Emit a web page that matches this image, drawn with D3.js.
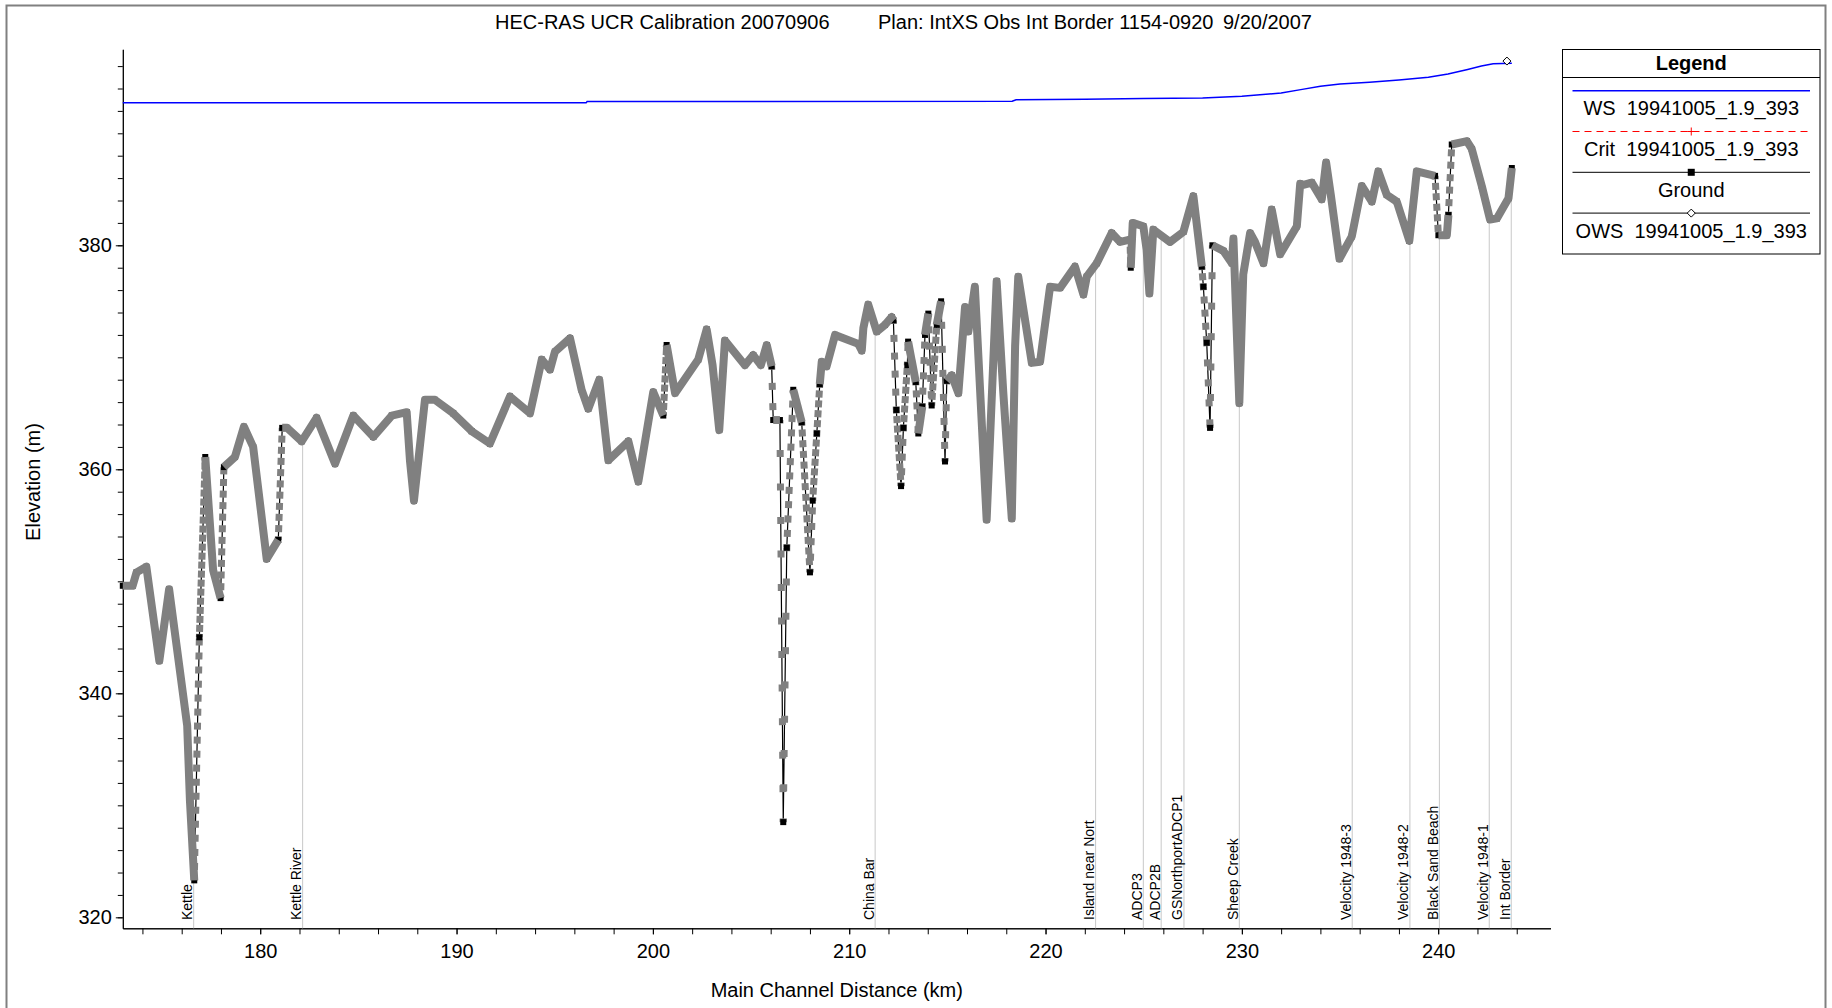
<!DOCTYPE html>
<html>
<head>
<meta charset="utf-8">
<script src="https://cdn.jsdelivr.net/npm/d3@7"></script>
<style>
    body { margin: 0; background: #fff; }
    svg { display: block; font-family: "Liberation Sans", Arial, sans-serif; }
    .pre { white-space: pre; }
</style>
</head>
<body>
<svg id="chart" width="1832" height="1008"></svg>
<script>
// ---- data ----
const titleParts = ["HEC-RAS UCR Calibration 20070906", "Plan: IntXS Obs Int Border 1154-0920", "9/20/2007"];
const xLabel = "Main Channel Distance (km)";
const yLabel = "Elevation (m)";

const xMajorTicks = [180, 190, 200, 210, 220, 230, 240];
const xMinorTicks = d3.range(174, 245, 2);
const yMajorTicks = [320, 340, 360, 380];
const yMinorTicks = d3.range(320, 397, 2);

// [river km, ground elevation m]
const groundProfile = [
    [173.0, 349.6], [173.5, 349.6], [173.7, 350.8], [174.2, 351.3], [174.86, 342.9],
    [175.36, 349.3], [176.28, 337.1], [176.42, 330.4], [176.64, 323.3], [176.9, 345.0],
    [177.2, 361.1], [177.6, 351.0], [177.98, 348.5], [178.15, 360.2], [178.71, 361.1],
    [179.17, 363.8], [179.64, 362.0], [180.33, 352.0], [180.92, 353.7], [181.12, 363.7],
    [181.37, 363.7], [182.11, 362.5], [182.87, 364.6], [183.81, 360.5], [184.74, 364.8],
    [185.76, 362.9], [186.7, 364.8], [187.46, 365.1], [187.63, 360.7], [187.83, 357.2],
    [188.39, 366.2], [188.9, 366.2], [189.83, 365.0], [190.77, 363.4], [191.7, 362.3],
    [192.72, 366.5], [193.74, 365.0], [194.34, 369.8], [194.76, 368.9], [195.01, 370.5],
    [195.78, 371.7], [196.37, 367.1], [196.71, 365.4], [197.27, 368.0], [197.73, 360.8],
    [198.75, 362.5], [199.26, 358.9], [200.02, 366.9], [200.53, 364.8], [200.7, 371.1],
    [201.13, 366.8], [202.31, 369.8], [202.74, 372.5], [203.04, 369.3], [203.38, 363.5],
    [203.67, 371.5], [204.69, 369.3], [205.11, 370.2], [205.5, 369.3], [205.8, 371.1],
    [206.05, 369.2], [206.13, 364.4], [206.47, 364.4], [206.64, 328.5], [206.82, 353.0],
    [207.15, 367.1], [207.58, 364.2], [208.0, 350.8], [208.14, 357.2], [208.35, 363.2],
    [208.5, 367.6], [208.6, 369.6], [208.85, 369.2], [209.28, 372.0], [210.46, 371.2],
    [210.64, 370.6], [210.72, 372.6], [210.97, 374.7], [211.4, 372.3], [211.82, 372.9],
    [212.16, 373.6], [212.25, 373.3], [212.4, 365.3], [212.64, 358.5], [212.76, 363.7],
    [212.96, 369.3], [213.0, 371.4], [213.39, 367.8], [213.52, 363.2], [213.72, 365.6],
    [213.86, 372.0], [214.03, 373.9], [214.2, 365.7], [214.46, 372.9], [214.68, 375.0],
    [214.88, 360.7], [214.97, 367.9], [215.22, 368.4], [215.56, 366.8], [215.9, 374.5],
    [216.07, 372.3], [216.4, 376.3], [217.0, 355.5], [217.51, 376.8], [217.85, 366.8],
    [218.28, 355.6], [218.45, 371.0], [218.61, 377.2], [219.3, 369.5], [219.72, 369.6],
    [220.23, 376.3], [220.74, 376.2], [221.5, 378.1], [221.93, 375.6], [222.1, 377.2],
    [222.61, 378.4], [223.37, 381.1], [223.8, 380.3], [224.3, 380.5], [224.34, 378.0],
    [224.44, 382.0], [224.98, 381.7], [225.15, 379.6], [225.29, 375.7], [225.49, 381.4],
    [226.34, 380.3], [227.02, 381.2], [227.53, 384.4], [227.96, 378.1], [228.04, 376.3],
    [228.21, 371.3], [228.38, 363.7], [228.5, 380.0], [229.06, 379.5], [229.49, 378.4],
    [229.57, 380.6], [229.87, 365.9], [230.07, 377.4], [230.42, 381.1], [230.67, 380.3],
    [231.1, 378.4], [231.52, 383.2], [231.95, 379.2], [232.8, 381.7], [232.97, 385.5],
    [233.13, 385.4], [233.56, 385.6], [234.07, 384.1], [234.29, 387.4], [234.53, 384.5],
    [234.97, 378.8], [235.6, 380.8], [236.11, 385.3], [236.62, 383.9], [236.95, 386.6],
    [237.38, 384.5], [237.89, 383.9], [238.53, 380.4], [238.91, 386.6], [239.84, 386.2],
    [240.01, 380.9], [240.44, 380.9], [240.52, 382.7], [240.69, 389.0], [241.46, 389.3],
    [241.71, 388.6], [242.22, 385.3], [242.64, 382.3], [242.99, 382.4], [243.58, 384.2],
    [243.75, 386.9]
];

// [river km, water surface m]
const wsProfile = [
    [173.0, 392.72], [196.6, 392.72], [196.65, 392.84], [218.3, 392.86], [218.5, 393.0],
    [222.0, 393.05], [225.0, 393.1], [228.0, 393.15], [230.0, 393.3], [232.0, 393.6],
    [233.0, 393.9], [234.0, 394.2], [235.0, 394.4], [236.5, 394.55], [238.0, 394.75],
    [239.5, 395.0], [240.5, 395.3], [241.5, 395.7], [242.2, 396.0], [242.8, 396.2],
    [243.75, 396.25]
];

const owsKm = [243.5];
const owsElev = [396.45];

const stationNames = ["Kettle", "Kettle River", "China Bar", "Island near Nort", "ADCP3", "ADCP2B",
    "GSNorthportADCP1", "Sheep Creek", "Velocity 1948-3", "Velocity 1948-2", "Black Sand Beach",
    "Velocity 1948-1", "Int Border"];
const stationKm = [176.61, 182.16, 211.32, 222.55, 224.98, 225.89, 227.05, 229.87, 235.62, 238.56,
    240.06, 242.6, 243.72];

const legendNames = ["WS  19941005_1.9_393", "Crit  19941005_1.9_393", "Ground", "OWS  19941005_1.9_393"];

// ---- drawing ----
const svg = d3.select("#chart");
const FONT = "\"Liberation Sans\", Arial, sans-serif";
const GREY = "#808080";

const x = d3.scaleLinear().domain([173, 245.72]).range([122.8, 1550.5]);
const y = d3.scaleLinear().domain([319.02, 397.5]).range([928.3, 49.3]);

// outer frame
svg.append("rect")
    .attr("x", 6.5).attr("y", 5.5)
    .attr("width", 1819).attr("height", 1020)
    .attr("fill", "none")
    .attr("stroke", GREY)
    .attr("stroke-width", 2);

// title
const titleX = [495, 878, 1223];
svg.selectAll(".title")
    .data(titleParts)
    .enter()
    .append("text")
    .attr("class", "title")
    .attr("x", (d, i) => titleX[i])
    .attr("y", 29)
    .attr("font-size", 20)
    .text(d => d);

// axes
function styleAxis(g) {
    g.attr("font-family", FONT).attr("font-size", 20);
    g.selectAll("path, line").attr("stroke", "#000");
    g.selectAll("text").attr("fill", "#000");
}

svg.append("g")
    .attr("transform", `translate(${x.range()[0]},0)`)
    .call(d3.axisLeft(y).tickValues(yMinorTicks).tickSize(5).tickSizeOuter(0).tickFormat(""))
    .call(styleAxis);
svg.append("g")
    .attr("transform", `translate(${x.range()[0]},0)`)
    .call(d3.axisLeft(y).tickValues(yMajorTicks).tickSize(7).tickSizeOuter(0).tickPadding(4).tickFormat(d3.format("d")))
    .call(styleAxis);

svg.append("g")
    .attr("transform", `translate(0,${y.range()[0]})`)
    .call(d3.axisBottom(x).tickValues(xMinorTicks).tickSize(6).tickSizeOuter(0).tickFormat(""))
    .call(styleAxis);
svg.append("g")
    .attr("transform", `translate(0,${y.range()[0]})`)
    .call(d3.axisBottom(x).tickValues(xMajorTicks).tickSize(6).tickSizeOuter(0).tickPadding(10).tickFormat(d3.format("d")))
    .call(styleAxis);

svg.append("text")
    .attr("x", 836.8).attr("y", 997)
    .attr("text-anchor", "middle")
    .attr("font-size", 20)
    .text(xLabel);

svg.append("text")
    .attr("transform", "translate(39.5,482) rotate(-90)")
    .attr("text-anchor", "middle")
    .attr("font-size", 20)
    .text(yLabel);

// ground elevation at a station, for the marker lines
const bisect = d3.bisector(d => d[0]).left;
function groundAt(km) {
    const i = Math.max(1, bisect(groundProfile, km));
    const a = groundProfile[i - 1], b = groundProfile[i];
    const t = (km - a[0]) / (b[0] - a[0]);
    return a[1] + t * (b[1] - a[1]);
}

// station marker lines and their labels
const stations = stationNames.map((name, i) => ({ name, km: stationKm[i] }));
const stationG = svg.append("g");
stationG.selectAll("line")
    .data(stations)
    .enter()
    .append("line")
    .attr("x1", d => x(d.km)).attr("x2", d => x(d.km))
    .attr("y1", d => y(groundAt(d.km)))
    .attr("y2", y.range()[0])
    .attr("stroke", "#c8c8c8")
    .attr("stroke-width", 1);
stationG.selectAll("text")
    .data(stations)
    .enter()
    .append("text")
    .attr("transform", d => `translate(${x(d.km) - 1.5},920) rotate(-90)`)
    .attr("font-size", 14)
    .text(d => d.name);

// water surface
const line = d3.line().x(d => x(d[0])).y(d => y(d[1]));
svg.append("path")
    .datum(wsProfile)
    .attr("d", line)
    .attr("fill", "none")
    .attr("stroke", "#0000ff")
    .attr("stroke-width", 1.5);

// observed water surface
svg.selectAll(".ows")
    .data(owsKm.map((km, i) => [km, owsElev[i]]))
    .enter()
    .append("path")
    .attr("class", "ows")
    .attr("transform", d => `translate(${x(d[0])},${y(d[1])})`)
    .attr("d", "M0,-4L4,0L0,4L-4,0Z")
    .attr("fill", "#fff")
    .attr("stroke", "#000")
    .attr("stroke-width", 1);

// ground: thin black line, grey interpolated-section markers, black real sections.
// interpolated sections are spaced differently along the reach
const sectionSpacing = [[173, 0.015], [178, 0.02], [200, 0.022], [206, 0.03], [216, 0.007],
    [220, 0.015], [227.9, 0.04], [228.6, 0.012], [239.8, 0.03], [240.8, 0.015]];
function spacingAt(km) {
    let s = sectionSpacing[0][1];
    sectionSpacing.forEach(([k, v]) => { if (km >= k) s = v; });
    return s;
}
const MARK = 7;
const segs = d3.pairs(groundProfile).map(([a, b]) => {
    const x1 = x(a[0]), y1 = y(a[1]), x2 = x(b[0]), y2 = y(b[1]);
    const len = Math.hypot(x2 - x1, y2 - y1);
    let step = len * spacingAt(a[0]) / (b[0] - a[0]);
    if (step > 36) step = len / Math.ceil(len / 36);
    return { x1, y1, x2, y2, step, dense: step <= 9 };
});

svg.append("path")
    .datum(groundProfile)
    .attr("d", line)
    .attr("fill", "none")
    .attr("stroke", "#000")
    .attr("stroke-width", 1.2);

svg.append("g").selectAll("line")
    .data(segs.filter(s => !s.dense))
    .enter()
    .append("line")
    .attr("x1", d => d.x1).attr("y1", d => d.y1)
    .attr("x2", d => d.x2).attr("y2", d => d.y2)
    .attr("stroke", GREY)
    .attr("stroke-width", MARK)
    .attr("stroke-dasharray", d => `${MARK} ${d.step - MARK}`)
    .attr("stroke-dashoffset", MARK / 2);

svg.append("g").selectAll("rect")
    .data(groundProfile)
    .enter()
    .append("rect")
    .attr("x", d => x(d[0]) - 3)
    .attr("y", d => y(d[1]) - 3)
    .attr("width", 6).attr("height", 6)
    .attr("fill", "#000");

const runs = [];
let cur = null;
segs.forEach((s, i) => {
    if (s.dense) {
        if (!cur) { cur = [groundProfile[i]]; runs.push(cur); }
        cur.push(groundProfile[i + 1]);
    } else {
        cur = null;
    }
});
svg.append("g").selectAll("path")
    .data(runs)
    .enter()
    .append("path")
    .attr("d", line)
    .attr("fill", "none")
    .attr("stroke", GREY)
    .attr("stroke-width", 8)
    .attr("stroke-linejoin", "round");

// legend
const legend = svg.append("g");
const lgX0 = 1562.5, lgX1 = 1820, lgMid = (lgX0 + lgX1) / 2;
legend.append("rect")
    .attr("x", lgX0).attr("y", 49.5)
    .attr("width", lgX1 - lgX0).attr("height", 204.5)
    .attr("fill", "#fff")
    .attr("stroke", "#000");
legend.append("line")
    .attr("x1", lgX0).attr("x2", lgX1)
    .attr("y1", 77.5).attr("y2", 77.5)
    .attr("stroke", "#000");
legend.append("text")
    .attr("x", lgMid).attr("y", 69.5)
    .attr("text-anchor", "middle")
    .attr("font-size", 20)
    .attr("font-weight", "bold")
    .text("Legend");

const rowY = i => 90.7 + i * 40.8;
const legendStroke = ["#0000ff", "#ff0000", "#000", "#000"];
legend.selectAll(".lg-line")
    .data(legendNames)
    .enter()
    .append("line")
    .attr("class", "lg-line")
    .attr("x1", 1572.5).attr("x2", 1810)
    .attr("y1", (d, i) => rowY(i)).attr("y2", (d, i) => rowY(i))
    .attr("stroke", (d, i) => legendStroke[i])
    .attr("stroke-width", (d, i) => i === 0 ? 1.5 : 1)
    .attr("stroke-dasharray", (d, i) => i === 1 ? "7 5" : null);
legend.selectAll(".lg-text")
    .data(legendNames)
    .enter()
    .append("text")
    .attr("class", "lg-text pre")
    .attr("x", lgMid)
    .attr("y", (d, i) => rowY(i) + 24.7)
    .attr("text-anchor", "middle")
    .attr("font-size", 20)
    .text(d => d);

// legend symbols
legend.append("path")
    .attr("d", `M${lgMid - 4},${rowY(1)}H${lgMid + 4}M${lgMid},${rowY(1) - 4}V${rowY(1) + 4}`)
    .attr("stroke", "#ff0000");
legend.append("rect")
    .attr("x", lgMid - 3.5).attr("y", rowY(2) - 3.5)
    .attr("width", 7).attr("height", 7)
    .attr("fill", "#000");
legend.append("path")
    .attr("transform", `translate(${lgMid},${rowY(3)})`)
    .attr("d", "M0,-4L4,0L0,4L-4,0Z")
    .attr("fill", "#fff")
    .attr("stroke", "#000");
</script>
</body>
</html>
